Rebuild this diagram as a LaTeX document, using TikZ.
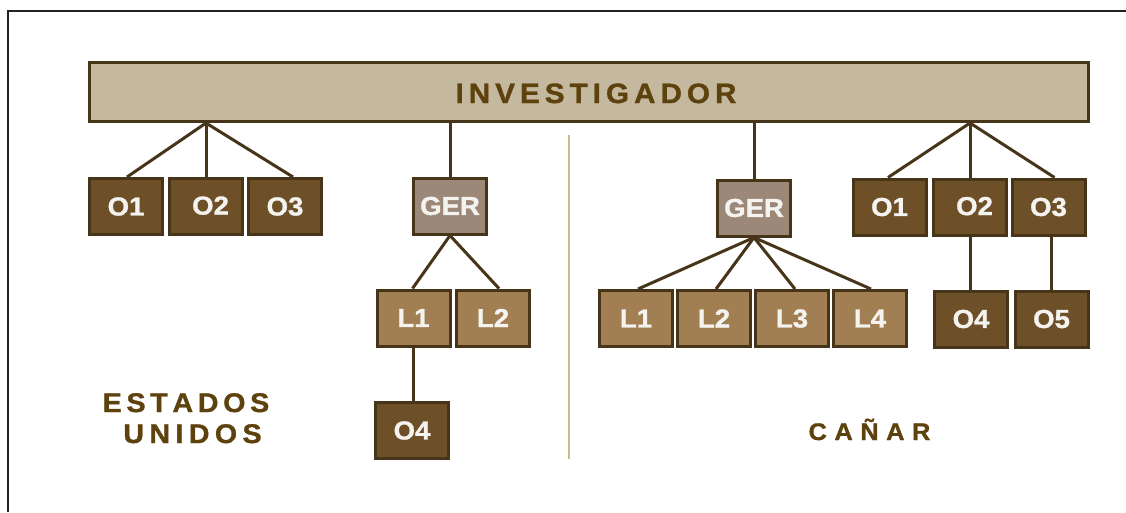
\documentclass[tikz,border=0pt]{standalone}
\usepackage{fontspec}
\setmainfont{Liberation Sans}
\newfontfamily\labfont[FakeStretch=1.06,FakeBold=1.2]{Liberation Sans}
\usetikzlibrary{calc}
\definecolor{barfill}{HTML}{C4B89F}
\definecolor{bord}{HTML}{47351A}
\definecolor{dfill}{HTML}{6D5028}
\definecolor{lfill}{HTML}{A27F52}
\definecolor{gfill}{HTML}{9B8879}
\definecolor{divcol}{HTML}{CDB892}
\definecolor{txtbrown}{HTML}{5E420E}
\definecolor{labwhite}{HTML}{F5F3F0}
\definecolor{framecol}{HTML}{222222}
\newdimen\trk
\newcommand\lsp{\kern\trk}
\tikzset{
  box/.style={draw=bord, line width=3pt, minimum width=73pt, minimum height=56pt,
    inner sep=0pt, text=labwhite, font=\labfont\bfseries\fontsize{26}{26}\selectfont},
  dbox/.style={box, fill=dfill},
  lbox/.style={box, fill=lfill},
  gbox/.style={box, fill=gfill},
  conn/.style={draw=bord, line width=3pt},
  title/.style={text=txtbrown, inner sep=0pt, anchor=base, font=\labfont\bfseries}
}
\begin{document}
\begin{tikzpicture}[x=1pt,y=-1pt]
\useasboundingbox (0,0) rectangle (1126,512);
% frame
\coordinate (fr1) at (1126,11);
\coordinate (fr2) at (8,11);
\coordinate (fr3) at (8,512);
\draw[framecol, line width=2pt] (fr1) -- (fr2) -- (fr3);
% divider
\coordinate (dv1) at (569,135);
\coordinate (dv2) at (569,459);
\draw[divcol, line width=2pt] (dv1) -- (dv2);
% bar
\node[draw=bord, line width=3pt, fill=barfill, minimum width=999pt, minimum height=59pt, inner sep=0pt] (bar) at (589,92) {};
\node[title, font=\labfont\bfseries\fontsize{28}{28}\selectfont] (inv) at (596,103)
  {\trk=5pt I\lsp N\lsp V\lsp E\lsp S\lsp T\lsp I\lsp G\lsp A\lsp D\lsp O\lsp R};
% left group
\node[dbox] (O1L) at (126,206.5) {O1};
\node[dbox] (O2L) at (206,206.5) {\raisebox{2pt}{\hspace{9pt}O2}};
\node[dbox] (O3L) at (285,206.5) {O3};
\node[gbox] (GERL) at (450,206) {GER};
\node[lbox] (L1L) at (413.5,318) {L1};
\node[lbox] (L2L) at (493,318) {L2};
\node[dbox] (O4L) at (412,430.5) {O4};
% right group
\node[gbox] (GERR) at (754,208) {GER};
\node[lbox] (L1R) at (636,318.5) {L1};
\node[lbox] (L2R) at (714,318.5) {L2};
\node[lbox] (L3R) at (792,318.5) {L3};
\node[lbox] (L4R) at (870,318.5) {L4};
\node[dbox] (O1R) at (889.5,207) {O1};
\node[dbox] (O2R) at (970,207) {\raisebox{2pt}{\hspace{9pt}O2}};
\node[dbox] (O3R) at (1048.5,207) {O3};
\node[dbox] (O4R) at (971,319) {O4};
\node[dbox] (O5R) at (1051.5,319) {O5};
% connectors
\draw[conn] (O2L |- bar.south) -- ([xshift=1pt]O1L.north);
\draw[conn] (O2L |- bar.south) -- (O2L.north);
\draw[conn] (O2L |- bar.south) -- ([xshift=8pt]O3L.north);
\draw[conn] (GERL |- bar.south) -- (GERL.north);
\draw[conn] (GERL.south) -- ([xshift=-1pt]L1L.north);
\draw[conn] (GERL.south) -- ([xshift=6pt]L2L.north);
\draw[conn] (L1L.south) -- (L1L.south |- O4L.north);
\draw[conn] (GERR |- bar.south) -- (GERR.north);
\draw[conn] (GERR.south) -- ([xshift=2pt]L1R.north);
\draw[conn] (GERR.south) -- ([xshift=2pt]L2R.north);
\draw[conn] (GERR.south) -- ([xshift=3pt]L3R.north);
\draw[conn] (GERR.south) -- ([xshift=1pt]L4R.north);
\draw[conn] (O2R |- bar.south) -- ([xshift=-1.5pt]O1R.north);
\draw[conn] (O2R |- bar.south) -- (O2R.north);
\draw[conn] (O2R |- bar.south) -- ([xshift=6pt]O3R.north);
\draw[conn] (O2R.south) -- (O2R.south |- O4R.north);
\draw[conn] (O5R.north |- O3R.south) -- (O5R.north);
% titles
\node[title, font=\labfont\bfseries\fontsize{27}{27}\selectfont] (est) at (186,412)
  {\trk=4.7pt E\lsp S\lsp T\lsp A\lsp D\lsp O\lsp S};
\node[title, font=\labfont\bfseries\fontsize{27}{27}\selectfont] (uni) at (192.5,443)
  {\trk=5.4pt U\lsp N\lsp I\lsp D\lsp O\lsp S};
\node[title, font=\labfont\bfseries\fontsize{24}{24}\selectfont] (can) at (869.5,440)
  {\trk=7.5pt C\lsp A\lsp Ñ\lsp A\lsp R};
\end{tikzpicture}
\end{document}
